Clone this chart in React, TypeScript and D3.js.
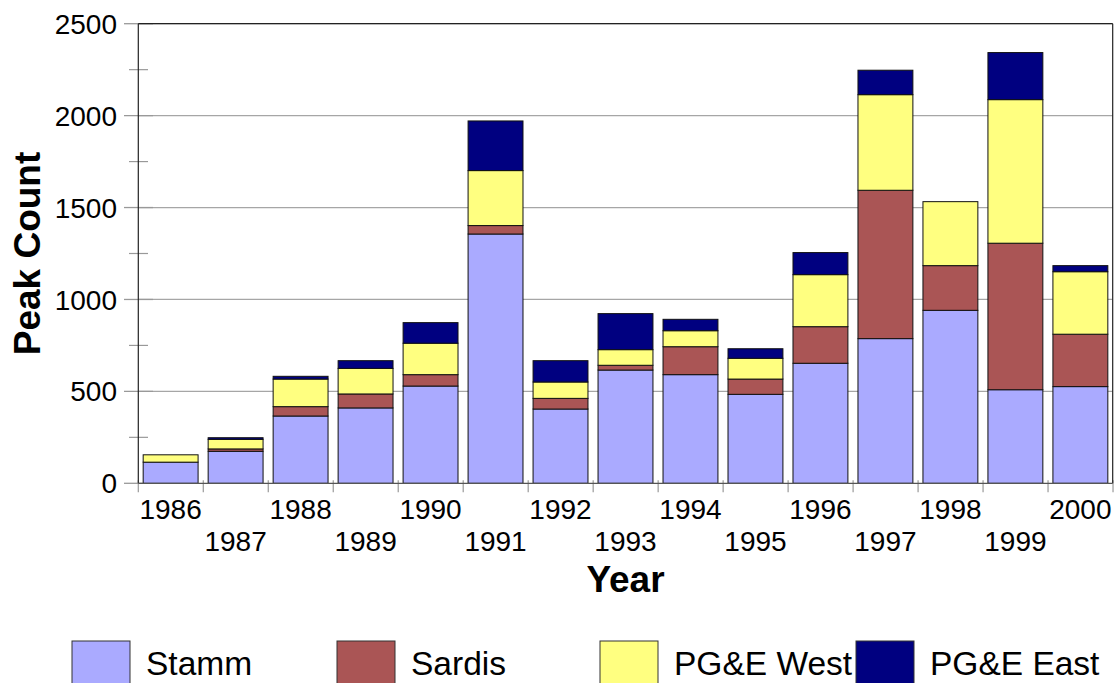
import * as d3 from "d3"

// Peak counts
const years = ["1986", "1987", "1988", "1989", "1990", "1991", "1992", "1993", "1994", "1995", "1996", "1997", "1998", "1999", "2000"]
const stamm = [115, 174, 366, 410, 529, 1356, 404, 616, 591, 484, 653, 787, 941, 509, 526]
const sardis = [0, 13, 51, 76, 62, 46, 58, 26, 152, 83, 199, 807, 243, 797, 285]
const pgeWest = [40, 52, 150, 139, 171, 299, 89, 85, 87, 113, 283, 520, 348, 781, 340]
const pgeEast = [0, 9, 15, 42, 112, 270, 116, 196, 62, 52, 120, 133, 0, 256, 33]

const seriesNames = ["Stamm", "Sardis", "PG&E West", "PG&E East"]
const seriesColors = ["#aaaaff", "#aa5555", "#ffff80", "#000080"]
const yTicks = [0, 500, 1000, 1500, 2000, 2500]

const W = 1117
const H = 683
const font = "'Liberation Sans', Arial, sans-serif"
const legendPos = [72, 337, 600, 856]

const App = () => {
  const left = 138.3
  const right = 1112.7
  const top = 23.7
  const bottom = 483.3

  const rows = years.map((y, i) => ({
    year: y,
    s0: stamm[i],
    s1: sardis[i],
    s2: pgeWest[i],
    s3: pgeEast[i],
  }))
  const keys = ["s0", "s1", "s2", "s3"]
  const stacked = d3.stack<any>().keys(keys)(rows)

  const x = d3.scaleBand().domain(years).range([left, right]).paddingInner(0.155).paddingOuter(0.075)
  const y = d3.scaleLinear().domain([0, 2500]).range([bottom, top])
  const step = x.step()
  const boundaries = d3.range(years.length + 1).map((i) => left + i * step)
  const minorTicks = d3.range(250, 2500, 500)

  return (
    <div style={{ position: "fixed", left: 0, top: 0 }}>
      <svg width={W} height={H} style={{ display: "block", background: "#fff" }} fontFamily={font}>
        {/* gridlines */}
        {yTicks.slice(1).map((t) => (
          <line key={"g" + t} x1={left} x2={right} y1={y(t)} y2={y(t)} stroke="#a6a6a6" strokeWidth={1.2} />
        ))}
        {/* y ticks */}
        {yTicks.map((t) => (
          <line key={"mt" + t} x1={124} x2={153} y1={y(t)} y2={y(t)} stroke="#999" strokeWidth={1.3} />
        ))}
        {minorTicks.map((t) => (
          <line key={"nt" + t} x1={129} x2={148} y1={y(t)} y2={y(t)} stroke="#999" strokeWidth={1.2} />
        ))}
        {/* x ticks */}
        {boundaries.map((b, i) => (
          <line key={"xt" + i} x1={b} x2={b} y1={bottom - 3} y2={bottom + 9} stroke="#999" strokeWidth={1.2} />
        ))}
        {/* bars */}
        {stacked.map((layer, si) => (
          <g key={"l" + si} fill={seriesColors[si]}>
            {layer.map((d, i) =>
              d[1] - d[0] > 0 ? (
                <rect
                  key={i}
                  x={x(years[i])}
                  y={y(d[1])}
                  width={x.bandwidth()}
                  height={y(d[0]) - y(d[1])}
                  stroke="#111"
                  strokeWidth={1}
                />
              ) : null,
            )}
          </g>
        ))}
        {/* frame */}
        <line x1={left} x2={right} y1={top} y2={top} stroke="#222" strokeWidth={1.2} />
        <line x1={right} x2={right} y1={top} y2={bottom} stroke="#222" strokeWidth={1.2} />
        <line x1={left} x2={left} y1={top} y2={bottom} stroke="#222" strokeWidth={1.2} />
        <line x1={left} x2={right} y1={bottom} y2={bottom} stroke="#555" strokeWidth={1.3} />
        {/* y labels */}
        {yTicks.map((t) => (
          <text key={"yl" + t} x={117} y={y(t)} dy="0.36em" textAnchor="end" fontSize={28} fill="#000">
            {t}
          </text>
        ))}
        {/* x labels */}
        {years.map((yr, i) => (
          <text
            key={"xl" + yr}
            x={(x(yr) ?? 0) + x.bandwidth() / 2}
            y={i % 2 === 0 ? 519 : 551}
            textAnchor="middle"
            fontSize={28}
            fill="#000"
          >
            {yr}
          </text>
        ))}
        {/* axis titles */}
        <text x={(left + right) / 2} y={592} textAnchor="middle" fontSize={37} fontWeight="bold">
          Year
        </text>
        <text
          transform={`translate(40,${(top + bottom) / 2}) rotate(-90)`}
          textAnchor="middle"
          fontSize={37}
          fontWeight="bold"
        >
          Peak Count
        </text>
        {/* legend */}
        {seriesNames.map((n, i) => (
          <g key={"lg" + n} transform={`translate(${legendPos[i]},641)`}>
            <rect x={0} y={0} width={58} height={60} fill={seriesColors[i]} stroke="#333" strokeWidth={1} />
            <text x={74} y={34} fontSize={33.5} fill="#000">
              {n}
            </text>
          </g>
        ))}
      </svg>
    </div>
  )
}

export default App
